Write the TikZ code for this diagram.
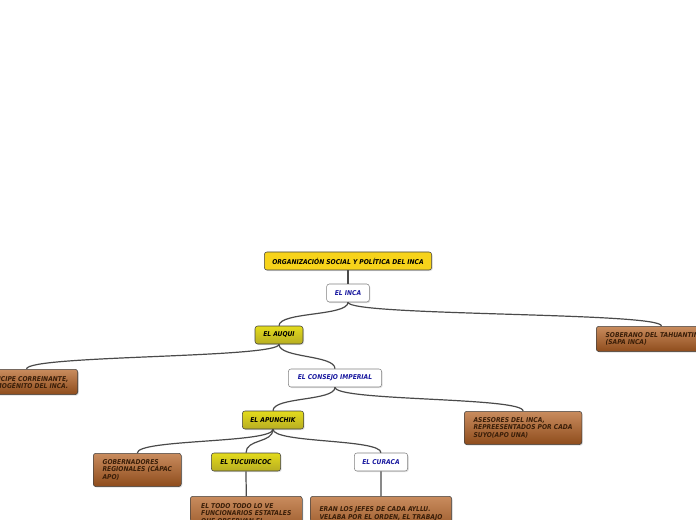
\documentclass[tikz,border=0pt]{standalone}
\usepackage{fontspec}
\setsansfont{DejaVu Sans Condensed}
\usetikzlibrary{shadows}
\definecolor{titleyellow}{HTML}{F7D31A}
\definecolor{subyellow}{HTML}{D8CC28}
\definecolor{brownlight}{HTML}{C98C5E}
\definecolor{browndark}{HTML}{8E4C1C}
\definecolor{browntext}{HTML}{3A1E08}
\definecolor{inkblue}{HTML}{1A1AA0}
\definecolor{linegray}{HTML}{4A4A4A}
\tikzset{
  box/.style={draw=black!75, rounded corners=2pt, minimum height=13.5pt, inner xsep=6pt,
    font=\sffamily\bfseries\itshape\fontsize{5}{5.6}\selectfont, drop shadow={opacity=0.25, shadow xshift=0.8pt, shadow yshift=-0.8pt}},
  titlebox/.style={box, fill=titleyellow, text=black},
  yellowbox/.style={box, top color=subyellow!70!yellow, bottom color=subyellow!85!black, text=black},
  whitebox/.style={box, fill=white, draw=black!50, text=inkblue},
  brownbox/.style={box, top color=brownlight, bottom color=browndark, text=browntext, align=left, inner xsep=7pt, inner ysep=4pt},
  link/.style={draw=linegray, line width=0.9pt},
}
\begin{document}
\begin{tikzpicture}[x=0.75pt, y=-0.75pt]
\useasboundingbox (0,0) rectangle (696,520);
\clip (0,0) rectangle (696,520);

\node[titlebox, minimum width=122pt] (org) at (348,261) {ORGANIZACIÓN SOCIAL Y POLÍTICA DEL INCA};
\node[whitebox, minimum width=32pt] (inca) at (348,293) {EL INCA};
\node[yellowbox, minimum width=36pt] (auqui) at (279,335) {EL AUQUI};
\node[brownbox, anchor=north west, minimum height=19pt] (soberano) at (596,326) {SOBERANO DEL TAHUANTINSUYO\\(SAPA INCA)};
\node[brownbox, anchor=north east, minimum height=19pt] (principe) at (78,369) {PRÍNCIPE CORREINANTE,\\PRIMOGÉNITO DEL INCA.};
\node[whitebox, minimum width=70pt] (consejo) at (335,378) {EL CONSEJO IMPERIAL};
\node[yellowbox, minimum width=46pt] (apunchik) at (273,420) {EL APUNCHIK};
\node[brownbox, anchor=north west, minimum width=87pt, minimum height=25pt] (asesores) at (464,411) {ASESORES DEL INCA,\\REPREESENTADOS POR CADA\\SUYO(APO UNA)};
\node[brownbox, anchor=north west, minimum width=66pt, minimum height=25pt] (gober) at (93,453) {GOBERNADORES\\REGIONALES (CÁPAC\\APO)};
\node[yellowbox, minimum width=52pt] (tucui) at (246,462) {EL TUCUIRICOC};
\node[whitebox, minimum width=40pt] (curaca) at (381,462) {EL CURACA};
\node[brownbox, anchor=north west, minimum width=84pt, minimum height=32pt] (todo) at (190,496) {EL TODO TODO LO VE\\FUNCIONARIOS ESTATALES\\QUE OBSERVAN EL\\TRABAJO};
\node[brownbox, anchor=north west, minimum width=106pt, minimum height=32pt] (eran) at (310,496) {ERAN LOS JEFES DE CADA AYLLU.\\VELABA POR EL ORDEN, EL TRABAJO\\Y LA PRODUCCIÓN.};

% links
\foreach \p/\c in {org/inca, inca/auqui, inca/soberano, auqui/principe, auqui/consejo,
  consejo/apunchik, consejo/asesores, apunchik/gober, apunchik/tucui, apunchik/curaca,
  tucui/todo, curaca/eran}
  \draw[link] (\p.south) .. controls +(0,14) and +(0,-14) .. (\c.north);
\end{tikzpicture}
\end{document}
